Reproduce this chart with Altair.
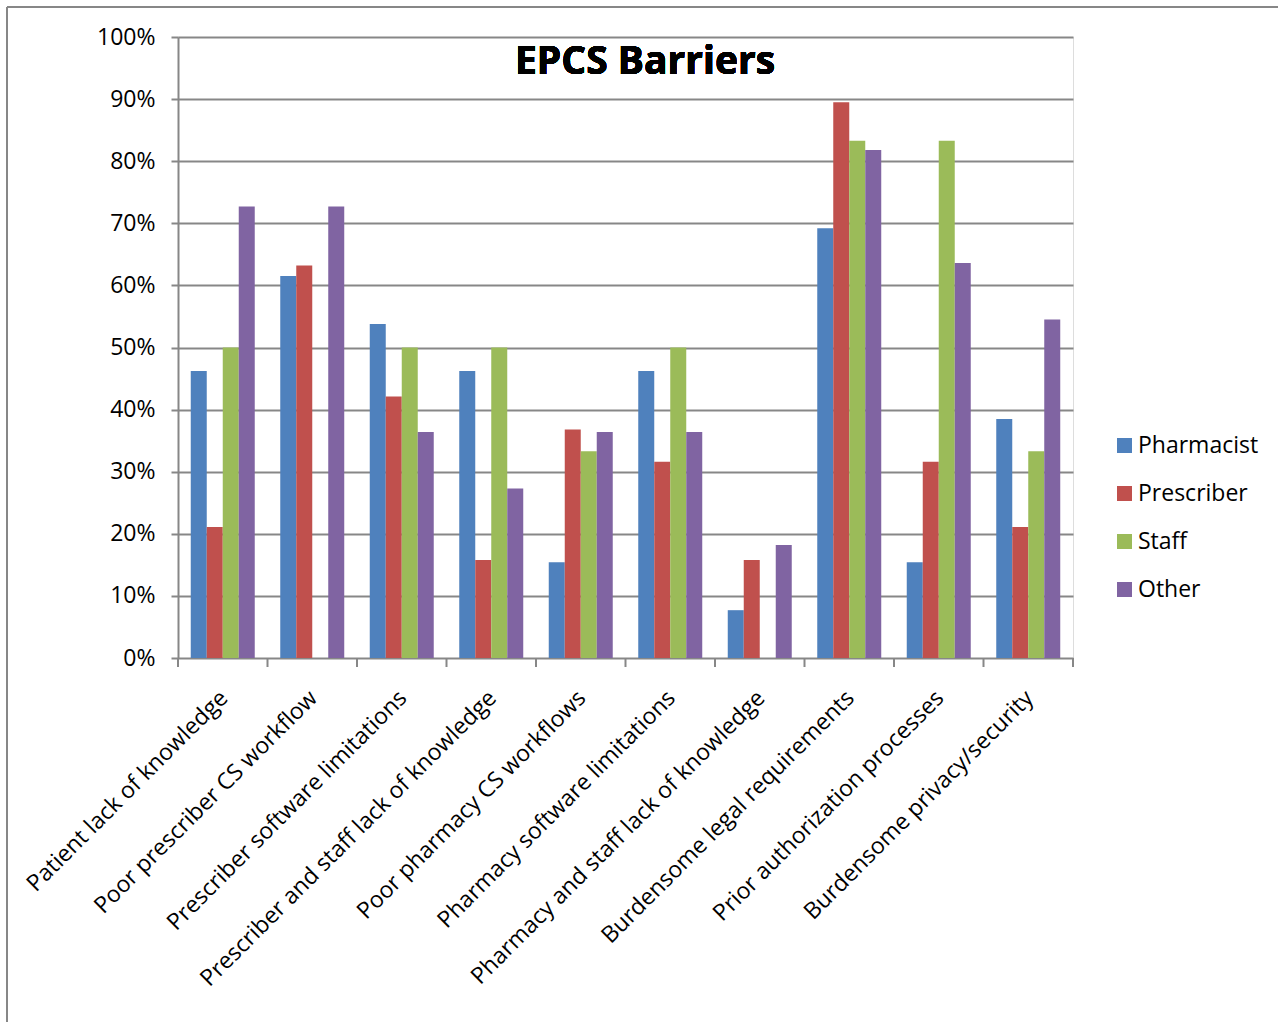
import altair as alt
import pandas as pd

# Survey barriers to e-prescribing of controlled substances, by respondent type
barriers = [
    "Patient lack of knowledge",
    "Poor prescriber CS workflow",
    "Prescriber software limitations",
    "Prescriber and staff lack of knowledge",
    "Poor pharmacy CS workflows",
    "Pharmacy software limitations",
    "Pharmacy and staff lack of knowledge",
    "Burdensome legal requirements",
    "Prior authorization processes",
    "Burdensome privacy/security",
]
groups = ["Pharmacist", "Prescriber", "Staff", "Other"]
colors = ["#4F81BD", "#C0504D", "#9BBB59", "#8064A2"]

pharmacist = [0.462, 0.615, 0.538, 0.462, 0.154, 0.462, 0.077, 0.692, 0.154, 0.385]
prescriber = [0.211, 0.632, 0.421, 0.158, 0.368, 0.316, 0.158, 0.895, 0.316, 0.211]
staff = [0.500, 0.000, 0.500, 0.500, 0.333, 0.500, 0.000, 0.833, 0.833, 0.333]
other = [0.727, 0.727, 0.364, 0.273, 0.364, 0.364, 0.182, 0.818, 0.636, 0.545]

y_ticks = [i / 10 for i in range(11)]
chart_title = "EPCS Barriers"

rows = []
for name, vals in zip(groups, [pharmacist, prescriber, staff, other]):
    for cat, v in zip(barriers, vals):
        rows.append({"cat": cat, "group": name, "share": v})
df = pd.DataFrame(rows)
cats_df = pd.DataFrame({"cat": barriers})

W, H = 895, 621
FONT = "Open Sans"
FS = 23
GRAY = "#878787"

x_enc = alt.X(
    "cat:N",
    sort=barriers,
    title=None,
    scale=alt.Scale(paddingInner=0, paddingOuter=0),
    axis=None,
)

bars = alt.Chart(df).mark_bar().encode(
    x=x_enc,
    xOffset=alt.XOffset(
        "group:N", sort=groups, scale=alt.Scale(paddingInner=0, paddingOuter=0.797)
    ),
    y=alt.Y(
        "share:Q",
        title=None,
        scale=alt.Scale(domain=[0, 1]),
        axis=alt.Axis(
            values=y_ticks,
            format=".0%",
            labelFontSize=FS,
            labelFont=FONT,
            labelColor="black",
            labelPadding=16,
            tickSize=7,
            tickColor=GRAY,
            tickWidth=2,
            domainColor=GRAY,
            domainWidth=2,
            gridColor=GRAY,
            gridWidth=2,
        ),
    ),
    color=alt.Color(
        "group:N",
        sort=groups,
        scale=alt.Scale(domain=groups, range=colors),
        legend=alt.Legend(
            title=None,
            orient="none",
            legendX=935,
            legendY=397,
            symbolType="square",
            symbolSize=225,
            symbolStrokeWidth=0,
            labelFontSize=FS,
            labelFont=FONT,
            labelColor="black",
            labelOffset=2,
            rowPadding=24,
            padding=0,
        ),
    ),
)

# rotated category labels under each group
x_labels = alt.Chart(cats_df).mark_text(
    angle=315, align="right", baseline="middle", font=FONT, fontSize=FS,
    color="black", dx=2,
).encode(
    x=alt.X("cat:N", sort=barriers, axis=None),
    y=alt.value(H + 38),
    text="cat:N",
)

# category boundary ticks under the x axis
x_ticks = alt.Chart(cats_df).mark_rule(color=GRAY, strokeWidth=2).encode(
    x=alt.X("cat:N", sort=barriers, bandPosition=0, axis=None),
    y=alt.value(H),
    y2=alt.value(H + 9),
)
end_tick = alt.Chart(cats_df).mark_rule(color=GRAY, strokeWidth=2).encode(
    x=alt.value(W), y=alt.value(H), y2=alt.value(H + 9)
)

# chart title drawn inside the plot area
title = alt.Chart(cats_df).mark_text(
    font=FONT, fontSize=39, fontWeight="bold", color="black",
    align="center", baseline="alphabetic",
).encode(
    x=alt.value(467), y=alt.value(37), text=alt.value(chart_title)
)

# outer frame of the chart area
frame_left = alt.Chart(cats_df).mark_rule(color=GRAY, strokeWidth=2).encode(
    x=alt.value(-171), y=alt.value(-30), y2=alt.value(1022 - 37)
)
frame_top = alt.Chart(cats_df).mark_rule(color=GRAY, strokeWidth=2).encode(
    x=alt.value(-171), x2=alt.value(1278 - 178), y=alt.value(-30)
)

chart = (
    alt.layer(bars, x_labels, x_ticks, end_tick, title, frame_left, frame_top)
    .properties(
        width=W,
        height=H,
        autosize=alt.AutoSizeParams(type="none"),
        padding={"left": 178, "top": 37, "right": 205, "bottom": 364},
    )
    .configure_view(stroke=None)
    .configure(background="white")
)

chart.save("out.html", embed_options={"renderer": "svg", "actions": False})
